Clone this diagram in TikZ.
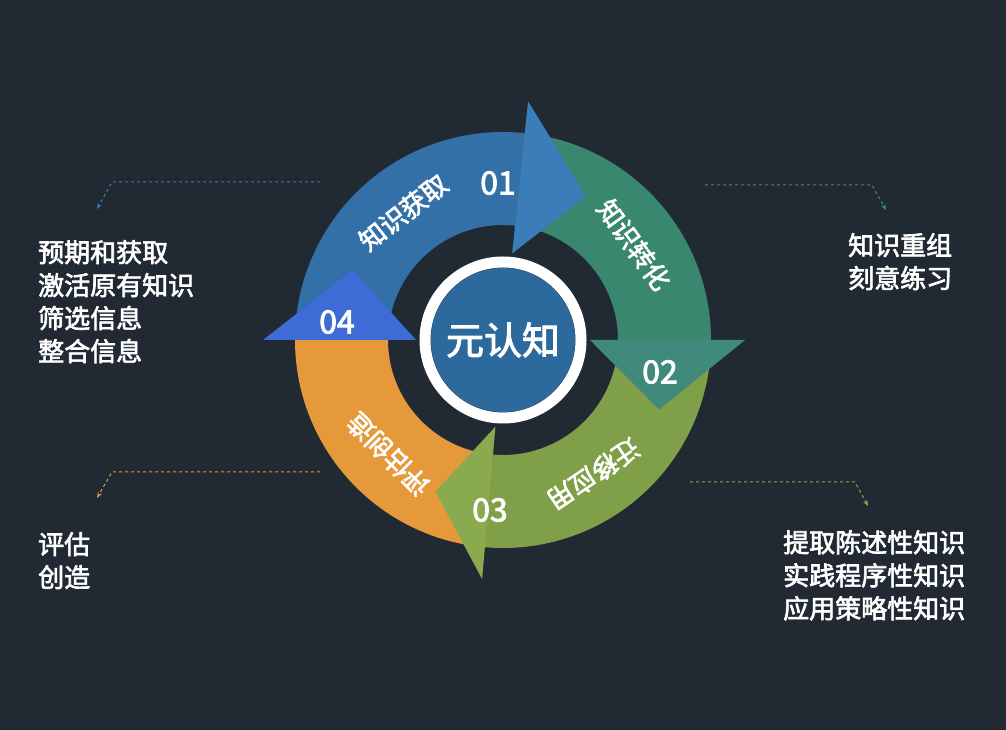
\documentclass[tikz,border=0pt]{standalone}
\usepackage{fontspec}
\setmainfont{Noto Sans CJK SC}[AutoFakeBold=2.5]
\usetikzlibrary{arrows.meta}
\definecolor{bg}{HTML}{212A33}
\definecolor{cA}{HTML}{3470A8}
\definecolor{cAh}{HTML}{3A7DB8}
\definecolor{cB}{HTML}{3A8770}
\definecolor{cBh}{HTML}{3F8A7A}
\definecolor{cC}{HTML}{7FA048}
\definecolor{cCh}{HTML}{8AAA50}
\definecolor{cD}{HTML}{E5993A}
\definecolor{cDh}{HTML}{3D6CD6}
\definecolor{cen}{HTML}{2C6A9E}
\tikzset{
 lbl/.style={text=white,font=\fontsize{26}{28}\selectfont\bfseries},
 num/.style={text=white,font=\fontsize{32}{34}\selectfont\bfseries},
 lst/.style={text=white,font=\fontsize{26}{33}\selectfont\bfseries,align=left,anchor=north west,inner sep=0pt},
 dsh/.style={dashed,line width=1pt,-{Stealth[length=6pt]}}
}
\begin{document}
\begin{tikzpicture}[x=1pt,y=1pt]
\fill[bg] (0,0) rectangle (1006,730);
\useasboundingbox (0,0) rectangle (1006,730);
\def\R{208}\def\r{115}\def\m{161}
\begin{scope}[shift={(503,390)}]
% bodies
\fill[cA] (180:\R) arc[start angle=180,end angle=84,radius=\R] -- (84:\r) arc[start angle=84,end angle=180,radius=\r] -- cycle;
\fill[cB] (84:\R) arc[start angle=84,end angle=0,radius=\R] -- (0:\r) arc[start angle=0,end angle=84,radius=\r] -- cycle;
\fill[cC] (0:\R) arc[start angle=0,end angle=-95,radius=\R] -- (-95:\r) arc[start angle=-95,end angle=0,radius=\r] -- cycle;
\fill[cD] (-95:\R) arc[start angle=-95,end angle=-180,radius=\R] -- (-180:\r) arc[start angle=-180,end angle=-95,radius=\r] -- cycle;
% heads
\fill[cAh] (84:87) -- (84:240) -- (60:\m+5) -- cycle;
\fill[cBh] (0:87) -- (0:242) -- (-24:\m+10) -- cycle;
\fill[cCh] (-95:87) -- (-95:240) -- (-114:\m+5) -- cycle;
\fill[cDh] (180:87) -- (180:240) -- (155:\m+5) -- cycle;
% center
\fill[cen] (0,0) circle (72);
\draw[white,line width=11pt] (0,0) circle (78);
\node[text=white,font=\fontsize{38}{40}\selectfont\bfseries] (c) at (0,0) {元认知};
% ring labels
\node[lbl,rotate=38] (l1) at (128:162) {知识获取};
\node[lbl,rotate=-54] (l2) at (36:162) {知识转化};
\node[lbl,rotate=-146] (l3) at (-56:162) {迁移应用};
\node[lbl,rotate=135] (l4) at (-135:162) {评估创造};
\end{scope}
\node[num] (n1) at (498,547) {01};
\node[num] (n2) at (660,358) {02};
\node[num] (n3) at (490,220) {03};
\node[num] (n4) at (337,408) {04};
% dashed connectors
\coordinate (a0) at (320,548); \coordinate (a1) at (112,548); \coordinate (a2) at (97,521);
\draw[dsh,cAh] (a0) -- (a1) -- (a2);
\coordinate (b0) at (705,545); \coordinate (b1) at (872,545); \coordinate (b2) at (886,520);
\draw[dsh,cBh] (b0) -- (b1) -- (b2);
\coordinate (c0) at (320,258); \coordinate (c1) at (112,258); \coordinate (c2) at (97,232);
\draw[dsh,cD] (c0) -- (c1) -- (c2);
\coordinate (d0) at (690,248); \coordinate (d1) at (855,248); \coordinate (d2) at (868,224);
\draw[dsh,cCh] (d0) -- (d1) -- (d2);
% lists
\node[lst] (t1) at (38,490) {预期和获取\\激活原有知识\\筛选信息\\整合信息};
\node[lst] (t2) at (848,497) {知识重组\\刻意练习};
\node[lst] (t3) at (38,198) {评估\\创造};
\node[lst] (t4) at (783,200) {提取陈述性知识\\实践程序性知识\\应用策略性知识};
\end{tikzpicture}
\end{document}
